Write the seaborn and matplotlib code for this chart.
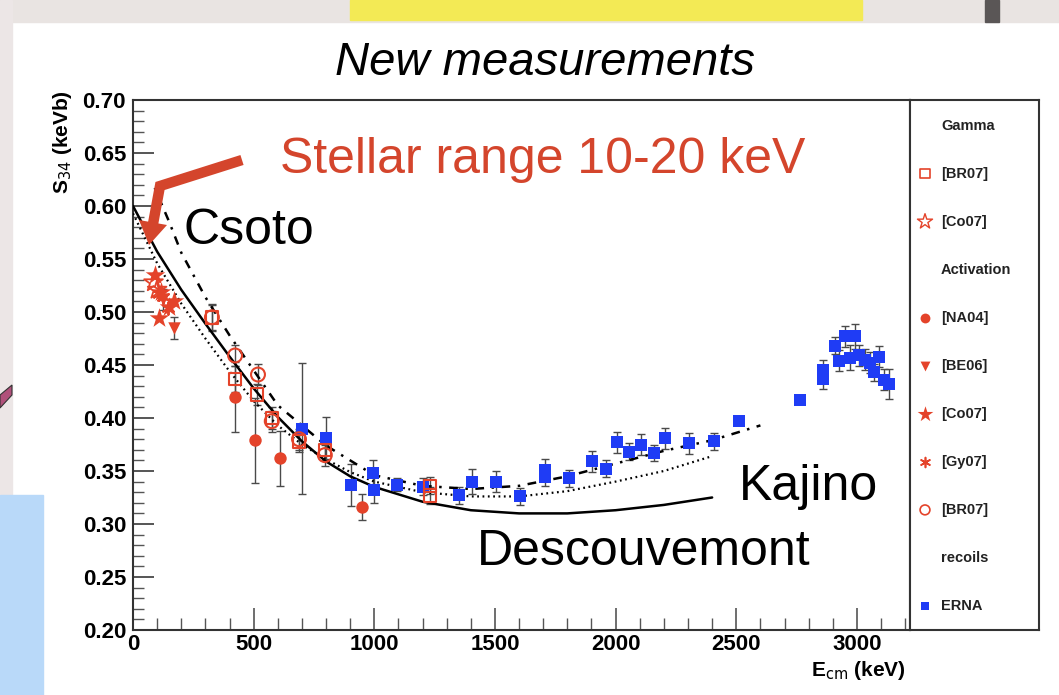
import numpy as np
import pandas as pd
import matplotlib
matplotlib.use("Agg")
import matplotlib.pyplot as plt
from matplotlib.patches import Rectangle, Polygon
from matplotlib.lines import Line2D
import seaborn as sns

# ---------------- data ----------------
# theory curves, S34 (keV b) vs E_cm (keV)
desc_e = [0, 100, 200, 300, 400, 500, 600, 700, 800, 900, 1000, 1200, 1400, 1600, 1800, 2000, 2200, 2400]
desc_s = [0.600, 0.557, 0.521, 0.489, 0.458, 0.428, 0.401, 0.378, 0.359, 0.345, 0.335, 0.321, 0.313, 0.310, 0.310, 0.313, 0.318, 0.325]

csoto_e = [0, 100, 200, 300, 400, 500, 600, 700, 800, 900, 1000, 1200, 1400, 1600, 1800, 2000, 2200, 2400]
csoto_s = [0.593, 0.546, 0.508, 0.475, 0.444, 0.416, 0.393, 0.375, 0.361, 0.349, 0.340, 0.330, 0.326, 0.326, 0.331, 0.340, 0.350, 0.364]

kajino_e = [90, 150, 200, 300, 400, 500, 600, 800, 1000, 1200, 1400, 1600, 1800, 2000, 2200, 2400, 2600]
kajino_s = [0.617, 0.585, 0.556, 0.514, 0.478, 0.445, 0.412, 0.374, 0.346, 0.336, 0.333, 0.336, 0.345, 0.357, 0.369, 0.379, 0.393]

# prompt gamma
br07g_e = [327, 423, 513, 575, 688, 795, 1230, 1230]
br07g_s = [0.495, 0.437, 0.422, 0.400, 0.378, 0.370, 0.336, 0.327]
br07g_err = [0.013, 0.012, 0.010, 0.010, 0.010, 0.010, 0.008, 0.008]

co07g_e = [85, 100]
co07g_s = [0.528, 0.521]

# activation
na04_e = [423, 506, 609, 950]
na04_s = [0.420, 0.379, 0.362, 0.316]
na04_err = [0.033, 0.040, 0.026, 0.012]

be06_e = [126, 170]
be06_s = [0.512, 0.485]
be06_err = [0.010, 0.010]

co07a_e = [93, 106, 116, 148, 170]
co07a_s = [0.535, 0.494, 0.519, 0.505, 0.510]

gy07_e = [106, 126, 147]
gy07_s = [0.517, 0.514, 0.504]

br07a_e = [327, 423, 518, 575, 688, 795]
br07a_s = [0.495, 0.459, 0.441, 0.397, 0.380, 0.365]
br07a_err = [0.012, 0.010, 0.010, 0.010, 0.010, 0.010]

# recoils (ERNA)
erna_e = [700, 800, 903, 995, 998, 1093, 1201, 1350, 1404, 1504, 1603, 1707, 1707, 1806,
          1902, 1960, 2005, 2055, 2104, 2158, 2204, 2303, 2407, 2510, 2763, 2858, 2858,
          2908, 2925, 2950, 2970, 2991, 3008, 3032, 3053, 3070, 3090, 3111, 3132]
erna_s = [0.390, 0.381, 0.337, 0.348, 0.332, 0.337, 0.335, 0.327, 0.340, 0.340, 0.326, 0.351, 0.344, 0.343,
          0.359, 0.352, 0.377, 0.368, 0.375, 0.367, 0.381, 0.376, 0.378, 0.397, 0.417, 0.445, 0.437,
          0.468, 0.454, 0.477, 0.457, 0.477, 0.459, 0.455, 0.452, 0.443, 0.458, 0.436, 0.432]
erna_err = [0.062, 0.020, 0.020, 0.012, 0.012, 0.006, 0.008, 0.008, 0.012, 0.010, 0.008, 0.010, 0.008, 0.008,
            0.010, 0.008, 0.010, 0.008, 0.010, 0.008, 0.010, 0.010, 0.008, 0.0, 0.0, 0.010, 0.010,
            0.008, 0.010, 0.010, 0.012, 0.012, 0.010, 0.010, 0.010, 0.008, 0.010, 0.010, 0.014]

legend_rows = ["Gamma", "[BR07]", "[Co07]", "Activation", "[NA04]", "[BE06]",
               "[Co07]", "[Gy07]", "[BR07]", "recoils", "ERNA"]

x_ticks = [0, 500, 1000, 1500, 2000, 2500, 3000]
y_ticks = [0.20, 0.25, 0.30, 0.35, 0.40, 0.45, 0.50, 0.55, 0.60, 0.65, 0.70]

RED = "#e4432a"
BLUE = "#1f3cf5"
ERRC = "#4a4a4a"

# ---------------- figure ----------------
sns.set_theme(style="white")
plt.rcParams["font.family"] = ["Liberation Sans", "DejaVu Sans"]
plt.rcParams["text.color"] = "black"

W, H = 1059, 695
fig = plt.figure(figsize=(W / 100, H / 100), dpi=100)
fig.patch.set_facecolor("white")


def fx(px):
    return px / W


def fy(py):
    return 1 - py / H


# slide backdrop around the white panel
fig.add_artist(Rectangle((0, fy(22)), 1, 22 / H, transform=fig.transFigure,
                         color="#e9e4e2", zorder=0))
fig.add_artist(Rectangle((0, 0), fx(12), 1, transform=fig.transFigure,
                         color="#ece6e6", zorder=0))
fig.add_artist(Rectangle((fx(350), fy(20)), fx(862 - 350), 20 / H, transform=fig.transFigure,
                         color="#f3ea55", zorder=1))
fig.add_artist(Rectangle((fx(985), fy(22)), fx(14), 22 / H, transform=fig.transFigure,
                         color="#5a5656", zorder=1))
fig.add_artist(Rectangle((0, 0), fx(43), 200 / H, transform=fig.transFigure,
                         color="#b9d9f9", zorder=1))
fig.add_artist(Polygon([(fx(0), fy(395)), (fx(12), fy(385)), (fx(12), fy(395)), (fx(0), fy(408))],
                       closed=True, transform=fig.transFigure, fc="#b0507a", ec="#333", lw=0.8, zorder=1))

# main frame
ax = fig.add_axes([fx(133), fy(630), fx(910 - 133), (630 - 100) / H])
ax.set_facecolor("white")

sns.lineplot(x=desc_e, y=desc_s, ax=ax, color="black", lw=1.8, sort=False, zorder=3)
sns.lineplot(x=csoto_e, y=csoto_s, ax=ax, color="black", lw=1.6, sort=False,
             linestyle=(0, (0.8, 1.6)), zorder=3)
sns.lineplot(x=kajino_e, y=kajino_s, ax=ax, color="black", lw=1.8, sort=False,
             linestyle=(0, (3.5, 3, 1, 3)), zorder=3)

eb = dict(fmt="none", ecolor=ERRC, elinewidth=1.0, capsize=3, capthick=1.0, zorder=2)
ax.errorbar(br07g_e, br07g_s, yerr=br07g_err, **eb)
ax.errorbar(br07a_e, br07a_s, yerr=br07a_err, **eb)
ax.errorbar(na04_e, na04_s, yerr=na04_err, **eb)
ax.errorbar(be06_e, be06_s, yerr=be06_err, **eb)
ax.errorbar(erna_e, erna_s, yerr=erna_err, **eb)

ms = 80
sns.scatterplot(x=erna_e, y=erna_s, ax=ax, marker="s", s=70, color=BLUE, edgecolor=BLUE, lw=0, zorder=4)
sns.scatterplot(x=na04_e, y=na04_s, ax=ax, marker="o", s=ms, color=RED, edgecolor=RED, lw=0, zorder=4)
sns.scatterplot(x=be06_e, y=be06_s, ax=ax, marker="v", s=ms, color=RED, edgecolor=RED, lw=0, zorder=4)
sns.scatterplot(x=co07a_e, y=co07a_s, ax=ax, marker="*", s=220, color=RED, edgecolor=RED, lw=0, zorder=4)
sns.scatterplot(x=gy07_e, y=gy07_s, ax=ax, marker=(6, 2, 0), s=ms, color=RED, edgecolor=RED, lw=1.4, zorder=4)
sns.scatterplot(x=br07g_e, y=br07g_s, ax=ax, marker="s", s=ms, color=RED, facecolor="none",
                edgecolor=RED, lw=1.5, zorder=4)
sns.scatterplot(x=br07a_e, y=br07a_s, ax=ax, marker="o", s=ms + 20, color=RED, facecolor="none",
                edgecolor=RED, lw=1.5, zorder=4)
sns.scatterplot(x=co07g_e, y=co07g_s, ax=ax, marker="*", s=200, color=RED, facecolor="none",
                edgecolor=RED, lw=1.3, zorder=4)

ax.set_xlim(0, 3220)
ax.set_ylim(0.20, 0.70)
ax.set_xticks(x_ticks)
ax.set_xticklabels([str(v) for v in x_ticks])
ax.set_yticks(y_ticks)
ax.set_yticklabels([f"{v:.2f}" for v in y_ticks])
ax.set_xticks(np.arange(0, 3201, 100), minor=True)
ax.set_yticks(np.arange(0.20, 0.7001, 0.01), minor=True)
ax.tick_params(axis="both", which="both", direction="in", colors="#555555",
               labelcolor="black", labelsize=16)
ax.tick_params(axis="y", which="major", length=15, width=1.4, pad=5, left=True)
ax.tick_params(axis="y", which="minor", length=8, width=1.0, left=True)
ax.tick_params(axis="x", which="major", length=16, width=1.2, pad=3, bottom=True)
ax.tick_params(axis="x", which="minor", length=9, width=1.0, bottom=True)
for lab in ax.get_xticklabels() + ax.get_yticklabels():
    lab.set_fontweight("bold")
for side, sp in ax.spines.items():
    sp.set_visible(True)
    sp.set_color("#333333")
    sp.set_linewidth(1.5)
ax.set_xlabel("")
ax.set_ylabel("")

# legend panel
lg = fig.add_axes([fx(910), fy(630), fx(1039 - 910), (630 - 100) / H])
lg.set_xlim(910, 1039)
lg.set_ylim(630, 100)
lg.set_xticks([])
lg.set_yticks([])
for sp in lg.spines.values():
    sp.set_visible(True)
    sp.set_color("#333333")
    sp.set_linewidth(1.5)

legend_marks = [None,
                dict(marker="s", fc="none", ec=RED, s=45, lw=1.2),
                dict(marker="*", fc="none", ec=RED, s=130, lw=1.0),
                None,
                dict(marker="o", fc=RED, ec=RED, s=50, lw=0),
                dict(marker="v", fc=RED, ec=RED, s=50, lw=0),
                dict(marker="*", fc=RED, ec=RED, s=140, lw=0),
                dict(marker=(6, 2, 0), fc=RED, ec=RED, s=50, lw=1.2),
                dict(marker="o", fc="none", ec=RED, s=50, lw=1.2),
                None,
                dict(marker="s", fc=BLUE, ec=BLUE, s=40, lw=0)]
row0, step = 125.5, 48.05
for i, (label, mk) in enumerate(zip(legend_rows, legend_marks)):
    yy = row0 + i * step
    lg.text(941, yy, label, fontsize=10.5, fontweight="bold", color="#222222",
            ha="left", va="center")
    if mk is not None:
        lg.scatter([925], [yy], marker=mk["marker"], s=mk["s"], facecolors=mk["fc"],
                   edgecolors=mk["ec"], linewidths=mk["lw"], clip_on=False)

# texts
fig.text(fx(545), fy(63), "New measurements", fontsize=34, style="italic",
         ha="center", va="center", color="black")
fig.text(fx(62), fy(142), r"S$_{34}$ (keVb)", fontsize=15, fontweight="bold",
         rotation=90, ha="center", va="center")
fig.text(fx(906), fy(670), r"E$_{\rm cm}$ (keV)", fontsize=15, fontweight="bold",
         ha="right", va="center")
fig.text(fx(280), fy(160), "Stellar range 10-20 keV", fontsize=36, color="#d4452c",
         ha="left", va="center")
fig.text(fx(184), fy(231), "Csoto", fontsize=36, ha="left", va="center")
fig.text(fx(739), fy(487), "Kajino", fontsize=36, ha="left", va="center")
fig.text(fx(477), fy(552), "Descouvemont", fontsize=36, ha="left", va="center")

# arrow pointing at the low-energy end of the curves
shaft = Line2D([fx(242), fx(160), fx(153)], [fy(160), fy(186), fy(224)],
               transform=fig.transFigure, color="#d4452c", lw=7.5,
               solid_joinstyle="miter", solid_capstyle="butt", zorder=5)
fig.add_artist(shaft)
head = Polygon([(fx(139), fy(220)), (fx(167), fy(225)), (fx(149), fy(245))], closed=True,
               transform=fig.transFigure, fc="#d4452c", ec="none", zorder=5)
fig.add_artist(head)

fig.savefig("out.png", dpi=100)
